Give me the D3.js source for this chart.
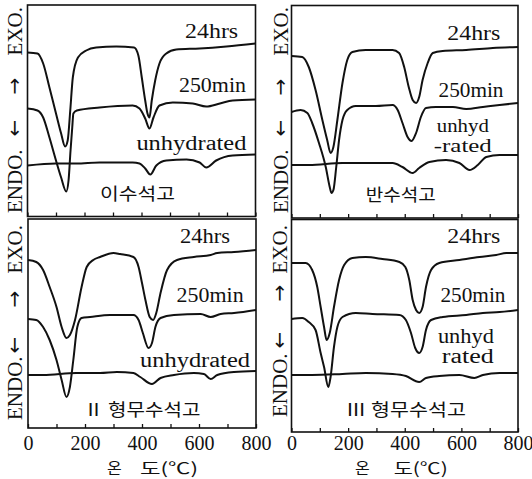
<!DOCTYPE html>
<html>
<head>
<meta charset="utf-8">
<script src="https://cdn.jsdelivr.net/npm/d3@7"></script>
<style>
  html, body { margin: 0; padding: 0; background: #fff; }
  svg { display: block; }
</style>
</head>
<body>
<svg id="chart" width="532" height="479"></svg>
<script>
// DTA curves of gypsum pastes: temperature (°C) against differential signal
// (arbitrary units, exothermic upwards). Each pair is [temperature, signal].

const seriesNames = ["24hrs", "250min", "unhydrated"];
const panelTitles = ["이수석고", "반수석고", "Ⅱ 형무수석고", "Ⅲ 형무수석고"];
const tickValues = [0, 100, 200, 300, 400, 500, 600, 700, 800];
const tickLabels = [0, 200, 400, 600, 800];
const axisTitle = ["온", "도(℃)"];
const yAxisParts = ["ENDO.", "←", "→", "EXO."];

// 이수석고 (dihydrate)
const dihydrate24h = [[0,164],[35,163],[55,153],[77,129],[100,103],[118,83],[132,70],[141,76],[150,106],[159,139],[177,159],[206,166],[241,169],[311,170],[374,169],[389,161],[401,139],[413,116],[421,103],[428,99],[436,116],[448,136],[463,153],[487,163],[522,167],[604,168],[698,170],[800,173]];
const dihydrate250m = [[0,108],[35,106],[55,99],[77,79],[100,56],[118,39],[136,25],[144,36],[151,66],[157,89],[161,103],[173,106],[253,109],[369,111],[393,108],[413,98],[428,88],[442,99],[463,111],[510,114],[580,113],[627,110],[675,113],[720,116],[800,117]];
const dihydrateRaw = [[0,51],[100,53],[171,53],[253,54],[369,54],[393,53],[413,48],[431,42],[452,51],[487,56],[558,57],[604,54],[627,49],[662,56],[720,61],[800,62]];

// 반수석고 (hemihydrate)
const hemihydrate24h = [[0,162],[38,161],[61,151],[85,128],[109,98],[126,78],[138,65],[148,71],[162,98],[180,135],[197,158],[215,166],[262,168],[357,168],[380,165],[398,151],[414,131],[428,118],[440,115],[451,121],[463,138],[481,155],[499,165],[534,167],[617,168],[711,170],[800,171]];
const hemihydrate250m = [[0,106],[32,108],[56,105],[73,95],[97,75],[121,51],[135,31],[141,25],[148,28],[158,51],[168,78],[180,98],[197,108],[227,112],[298,112],[357,113],[375,108],[392,95],[410,81],[424,77],[440,85],[457,101],[475,110],[510,111],[570,111],[617,109],[676,111],[735,113],[800,115]];
const hemihydrateRaw = [[0,53],[62,53],[180,55],[262,55],[357,55],[392,51],[428,45],[451,50],[487,56],[546,58],[593,55],[629,48],[658,53],[688,61],[735,63],[800,63]];

// Ⅱ형 무수석고 (insoluble anhydrite)
const anhydrite2_24h = [[0,168],[29,166],[53,158],[76,141],[100,121],[118,101],[135,90],[147,93],[165,108],[188,141],[206,161],[229,168],[253,171],[300,175],[323,174],[370,171],[388,161],[400,145],[412,128],[427,111],[439,108],[450,115],[465,135],[488,158],[523,168],[582,171],[641,173],[664,175],[723,176],[800,178]];
const anhydrite2_250m = [[0,109],[29,108],[53,101],[76,88],[100,68],[118,48],[135,31],[147,41],[159,68],[173,101],[188,110],[218,111],[288,113],[370,113],[388,108],[403,95],[423,80],[435,85],[447,101],[465,110],[512,113],[606,114],[641,111],[676,114],[723,115],[800,118]];
const anhydrite2Raw = [[0,53],[53,53],[170,55],[253,55],[312,56],[370,55],[394,51],[435,44],[465,50],[512,53],[582,55],[617,54],[641,49],[664,53],[723,56],[800,57]];

// Ⅲ형 무수석고 (soluble anhydrite)
const anhydrite3_24h = [[0,169],[50,169],[73,162],[91,145],[103,125],[115,105],[124,92],[135,99],[150,125],[168,152],[186,167],[215,174],[262,175],[321,173],[381,170],[402,165],[416,152],[428,132],[440,122],[451,119],[463,125],[475,145],[493,162],[522,169],[593,172],[664,175],[723,177],[759,179],[800,179]];
const anhydrite3_250m = [[0,113],[38,114],[61,110],[85,102],[103,79],[115,65],[130,45],[138,55],[150,85],[162,105],[180,115],[227,119],[286,118],[381,117],[404,112],[422,99],[437,84],[451,79],[463,85],[475,102],[493,112],[534,115],[617,117],[676,119],[735,120],[800,122]];
const anhydrite3Raw = [[0,57],[73,57],[180,58],[262,59],[357,58],[404,56],[451,50],[475,54],[522,56],[593,57],[646,54],[676,57],[735,59],[800,59]];

const serif = "'Liberation Serif','Times New Roman',serif";
const arrowFont = "'DejaVu Sans',sans-serif";
const hangul = "'Noto Sans CJK KR','Noto Sans',sans-serif";
const ink = "#111";

// Panel layout: frame box, axis text placement and label anchors (in data units).
const panels = [
  { x0: 27.5, x1: 255.5, y0: 5, y1: 216.5, labels: false, pad: 8,
    curves: [dihydrate24h, dihydrate250m, dihydrateRaw], title: panelTitles[0],
    tags: [
      { text: seriesNames[0], t: 646, s: 179, w: 53, f: 20 },
      { text: seriesNames[1], t: 649, s: 125, w: 67, f: 20 },
      { text: seriesNames[2], t: 575, s: 67, w: 110, f: 20 }],
    titlePos: { t: 386, s: 17, w: 75 },
    yLab: { bx: 22, endo: 213, left: 128, right: 86, exo: 7 } },
  { x0: 291.5, x1: 518, y0: 5.5, y1: 218, labels: false, pad: 8,
    curves: [hemihydrate24h, hemihydrate250m, hemihydrateRaw], title: panelTitles[1],
    tags: [
      { text: seriesNames[0], t: 644, s: 178, w: 53, f: 20 },
      { text: seriesNames[1], t: 634, s: 121, w: 65, f: 20 },
      { text: "unhyd", t: 605, s: 86, w: 52, f: 18 },
      { text: "-rated", t: 605, s: 66, w: 58, f: 18 }],
    titlePos: { t: 386, s: 17, w: 70 },
    yLab: { bx: 288, endo: 213, left: 128, right: 87, exo: 7 } },
  { x0: 28, x1: 256, y0: 219, y1: 428, labels: true, pad: 8,
    curves: [anhydrite2_24h, anhydrite2_250m, anhydrite2Raw], title: panelTitles[2],
    tags: [
      { text: seriesNames[0], t: 621, s: 185, w: 50, f: 20 },
      { text: seriesNames[1], t: 639, s: 126, w: 67, f: 20 },
      { text: seriesNames[2], t: 586, s: 61, w: 110, f: 20 }],
    titlePos: { t: 400, s: 12, w: 117 },
    yLab: { bx: 22, endo: 420, left: 345, right: 299, exo: 225 },
    xTitle: { a: 303, b: 393, w: 58, base: 474 } },
  { x0: 291.5, x1: 518, y0: 219.5, y1: 432, labels: true, pad: 4,
    curves: [anhydrite3_24h, anhydrite3_250m, anhydrite3Raw], title: panelTitles[3],
    tags: [
      { text: seriesNames[0], t: 644, s: 189, w: 53, f: 20 },
      { text: seriesNames[1], t: 641, s: 130, w: 65, f: 20 },
      { text: "unhyd", t: 616, s: 89, w: 56, f: 20 },
      { text: "rated", t: 623, s: 69, w: 52, f: 20 }],
    titlePos: { t: 404, s: 16, w: 120 },
    yLab: { bx: 287, endo: 417, left: 340, right: 293, exo: 225 },
    xTitle: { a: 250, b: 361, w: 54, base: 474 } }
];

const svg = d3.select("#chart");

panels.forEach(p => {
  const x = d3.scaleLinear().domain([0, 800]).range([p.x0, p.x1]);
  const y = d3.scaleLinear().domain([0, 210]).range([p.y1, p.y1 - 210]);
  const g = svg.append("g");

  const line = d3.line()
    .x(d => x(d[0]))
    .y(d => y(d[1]))
    .curve(d3.curveMonotoneX);

  g.selectAll("path.curve")
    .data(p.curves)
    .join("path")
    .attr("class", "curve")
    .attr("d", line)
    .attr("fill", "none")
    .attr("stroke", ink)
    .attr("stroke-width", 2)
    .attr("stroke-linejoin", "round");

  // frame
  g.append("rect")
    .attr("x", p.x0).attr("y", p.y0)
    .attr("width", p.x1 - p.x0).attr("height", p.y1 - p.y0)
    .attr("fill", "none").attr("stroke", ink).attr("stroke-width", 1.6);

  // temperature axis: short inward ticks every 100 °C
  const axis = d3.axisBottom(x)
    .tickValues(tickValues)
    .tickSizeInner(-4)
    .tickSizeOuter(0)
    .tickPadding(p.pad)
    .tickFormat(d => (p.labels && tickLabels.includes(d)) ? String(d) : "");
  const ag = g.append("g")
    .attr("transform", `translate(0,${p.y1})`)
    .call(axis);
  ag.select(".domain").remove();
  ag.selectAll(".tick line").attr("stroke", ink).attr("stroke-width", 1.3);
  ag.selectAll(".tick text")
    .attr("font-family", serif).attr("font-size", 20).attr("fill", ink);

  // series tags
  g.selectAll("text.tag")
    .data(p.tags)
    .join("text")
    .attr("class", "tag")
    .attr("x", d => x(d.t))
    .attr("y", d => y(d.s))
    .attr("text-anchor", "middle")
    .attr("font-family", serif)
    .attr("font-size", d => d.f)
    .attr("fill", ink)
    .attr("textLength", d => d.w)
    .attr("lengthAdjust", "spacingAndGlyphs")
    .text(d => d.text);

  // sample name
  g.append("text")
    .attr("x", x(p.titlePos.t))
    .attr("y", y(p.titlePos.s))
    .attr("text-anchor", "middle")
    .attr("font-family", hangul)
    .attr("font-size", 17)
    .attr("fill", ink)
    .attr("textLength", p.titlePos.w)
    .attr("lengthAdjust", "spacingAndGlyphs")
    .text(p.title);

  // vertical label: ENDO. ← → EXO.
  const yl = p.yLab;
  const rot = (yy, anchor, txt, font, size, dx) => g.append("text")
    .attr("transform", `translate(${yl.bx + (dx || 0)},${yy}) rotate(-90)`)
    .attr("text-anchor", anchor)
    .attr("font-family", font)
    .attr("font-size", size)
    .attr("fill", ink)
    .text(txt);
  rot(yl.endo, "start", yAxisParts[0], serif, 21);
  rot(yl.left, "middle", yAxisParts[1], arrowFont, 20, -1);
  rot(yl.right, "middle", yAxisParts[2], arrowFont, 20, -1);
  rot(yl.exo, "end", yAxisParts[3], serif, 21);

  // axis title under the lower panels
  if (p.xTitle) {
    g.append("text")
      .attr("x", x(p.xTitle.a)).attr("y", p.xTitle.base)
      .attr("text-anchor", "middle")
      .attr("font-family", hangul).attr("font-size", 16).attr("fill", ink)
      .text(axisTitle[0]);
    g.append("text")
      .attr("x", x(p.xTitle.b)).attr("y", p.xTitle.base)
      .attr("text-anchor", "start")
      .attr("font-family", hangul).attr("font-size", 16).attr("fill", ink)
      .attr("textLength", p.xTitle.w)
      .attr("lengthAdjust", "spacingAndGlyphs")
      .text(axisTitle[1]);
  }
});
</script>
</body>
</html>
